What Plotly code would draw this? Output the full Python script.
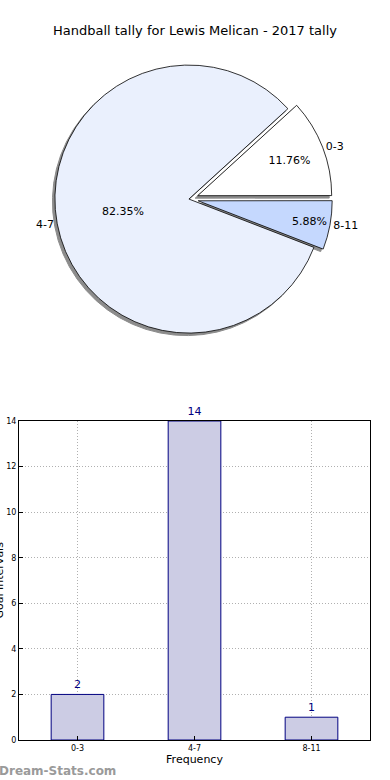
import plotly.graph_objects as go

categories = ["0-3", "4-7", "8-11"]
counts = [2, 14, 1]
pie_colors = ["#ffffff", "#eaf0fd", "#c5d8fe"]
pulls = [0.07, 0.0, 0.07]
title_text = "Handball tally for Lewis Melican - 2017 tally"
x_title = "Frequency"
y_title = "Goal Intervals"
watermark = "Dream-Stats.com"

FONT = "DejaVu Sans"

dx, dy = -1 / 351, 0 / 730
grow_x, grow_y = 3 / 351, 3 / 730
pie_dom_x = [0.087 + dx - grow_x, 0.887 + dx + grow_x]
pie_dom_y = [0.546 + dy - grow_y, 0.936 + dy + grow_y]
sx, sy = -2.5 / 351, -2.5 / 730
ROT = 47.6

fig = go.Figure()

# shadow
fig.add_trace(go.Pie(
    labels=categories, values=counts, sort=False, direction="counterclockwise",
    rotation=ROT, pull=pulls, textinfo="none", hoverinfo="skip",
    marker=dict(colors=["#8c8c8c"] * 3, line=dict(color="#8c8c8c", width=1)),
    domain=dict(x=[pie_dom_x[0] + sx, pie_dom_x[1] + sx], y=[pie_dom_y[0] + sy, pie_dom_y[1] + sy]),
    showlegend=False,
))
# main pie with percents inside
fig.add_trace(go.Pie(
    labels=categories, values=counts, sort=False, direction="counterclockwise",
    rotation=ROT, pull=pulls, texttemplate="%{percent:.2%}", textposition="inside",
    insidetextorientation="horizontal",
    textfont=dict(family=FONT, size=11, color="#000000"),
    marker=dict(colors=pie_colors, line=dict(color="#000000", width=0.8)),
    domain=dict(x=pie_dom_x, y=pie_dom_y), showlegend=False,
))
# labels outside
fig.add_trace(go.Pie(
    labels=categories, values=counts, sort=False, direction="counterclockwise",
    rotation=ROT, pull=pulls, textinfo="label", textposition="outside",
    textfont=dict(family=FONT, size=11, color="#000000"),
    marker=dict(colors=["rgba(0,0,0,0)"] * 3, line=dict(width=0)),
    domain=dict(x=pie_dom_x, y=pie_dom_y), showlegend=False, hoverinfo="skip",
))

fig.add_trace(go.Bar(
    x=categories, y=counts, width=0.45,
    marker=dict(color="#cccce4", line=dict(color="#000080", width=1)),
    text=[str(c) for c in counts], textposition="outside",
    textfont=dict(family=FONT, size=11, color="#000080"),
    cliponaxis=False, showlegend=False, xaxis="x", yaxis="y",
))

grid = dict(showgrid=True, gridcolor="#b0b0b0", griddash="1px,2px", gridwidth=1)

fig.update_layout(
    width=390, height=780,
    margin=dict(l=19, r=20, t=10, b=40),
    paper_bgcolor="white", plot_bgcolor="white",
    font=dict(family=FONT, color="#000000"),
    title=dict(text=title_text, x=0.5, xanchor="center", y=1 - 30 / 780,
               yanchor="middle", yref="container",
               font=dict(family=FONT, size=13, color="#000000")),
    xaxis=dict(domain=[0, 1], range=[-0.5, 2.5], showline=True, linecolor="#000000",
               linewidth=1, mirror=True, ticks="inside", ticklen=4, tickcolor="#000000",
               tickfont=dict(size=8), automargin=False,
               title=dict(text=x_title, font=dict(size=11), standoff=2),
               anchor="y", fixedrange=True, **grid),
    yaxis=dict(domain=[0, 0.437], range=[0, 14], dtick=2, showline=True, linecolor="#000000",
               linewidth=1, mirror=True, ticks="inside", ticklen=4, tickcolor="#000000",
               tickfont=dict(size=8), automargin=False,
               zeroline=False, anchor="x", fixedrange=True, **grid),
    annotations=[
        dict(text=y_title, textangle=-90, xref="paper", yref="paper",
             x=-20 / 351, xanchor="center", y=0.437 / 2, yanchor="middle",
             showarrow=False, font=dict(size=11, color="#000000")),
        dict(text="<b>" + watermark + "</b>", xref="paper", yref="paper",
             x=-22 / 351, xanchor="left", y=(740 - 771) / 730, yanchor="middle",
             showarrow=False, font=dict(size=12, color="#9a9a9a")),
    ],
)

fig.write_html(
    "out.html",
    config={"displayModeBar": False},
    post_script="document.documentElement.style.margin='0';document.body.style.margin='0';"
                "document.body.style.overflow='hidden';",
)
